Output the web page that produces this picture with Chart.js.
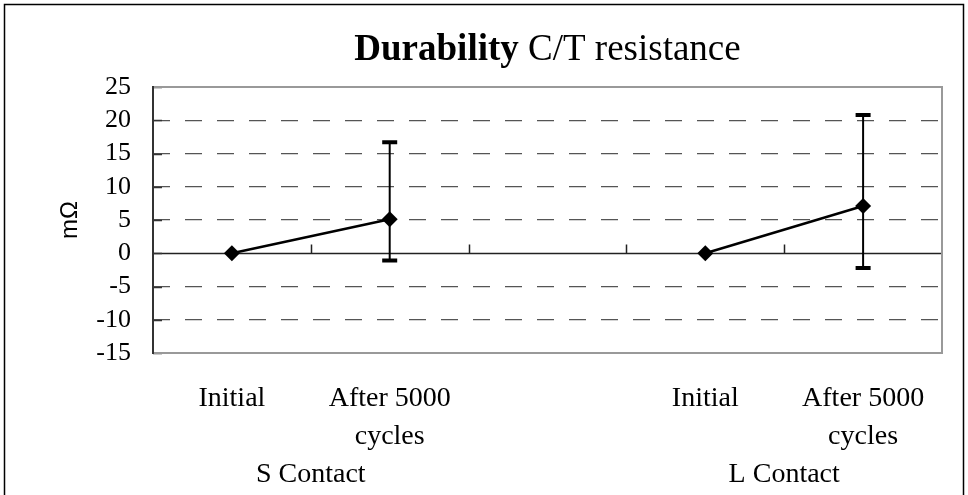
<!DOCTYPE html>
<html>
<head>
<meta charset="utf-8">
<script src="https://cdn.jsdelivr.net/npm/chart.js@4"></script>
<style>
  html, body { margin: 0; padding: 0; background: #fff; }
  #wrap { width: 968px; height: 495px; position: relative; }
</style>
</head>
<body>
<div id="wrap"><canvas id="ctChart"></canvas></div>
<script>
// categorias (la del medio vacia, separa los dos grupos)
var labels = ['Initial', ['After 5000', 'cycles'], '', 'Initial', ['After 5000', 'cycles']];
var groups = ['S Contact', 'L Contact'];
var groupIdx = [[0, 1], [3, 4]];

// valores medios y extremos de las barras de error (mOhm)
var s_mean = [0, 5.1, null, null, null];
var s_hi   = [0, 16.7, null, null, null];
var s_lo   = [0, -1.1, null, null, null];
var l_mean = [null, null, null, 0, 7.1];
var l_hi   = [null, null, null, 0, 20.8];
var l_lo   = [null, null, null, 0, -2.2];

var yTicks = [-15, -10, -5, 0, 5, 10, 15, 20, 25];

const serif = "'Liberation Serif', 'Times New Roman', serif";

// titulo con parte en negrita, marco, linea del cero, ticks, barras de error
const decor = {
  id: 'decor',
  beforeDatasetsDraw(chart) {
    const ctx = chart.ctx, a = chart.chartArea;
    const x = chart.scales.x, y = chart.scales.y;
    ctx.save();
    // linea del cero
    const y0 = Math.round(y.getPixelForValue(0)) + 0.5;
    ctx.strokeStyle = '#222';
    ctx.lineWidth = 1.5;
    ctx.beginPath();
    ctx.moveTo(a.left, y0);
    ctx.lineTo(a.right, y0);
    // ticks de categoria hacia arriba
    for (let i = 1; i < labels.length; i++) {
      const bx = Math.round((x.getPixelForValue(i - 1) + x.getPixelForValue(i)) / 2) + 0.5;
      ctx.moveTo(bx, y0);
      ctx.lineTo(bx, y0 - 9);
    }
    ctx.stroke();
    // ticks del eje y hacia adentro
    ctx.strokeStyle = '#333';
    ctx.lineWidth = 1.5;
    ctx.beginPath();
    yTicks.forEach(function(v) {
      const ty = Math.round(y.getPixelForValue(v)) + 0.5;
      ctx.moveTo(a.left, ty);
      ctx.lineTo(a.left + 9, ty);
    });
    ctx.stroke();
    ctx.restore();
  },
  afterDatasetsDraw(chart) {
    const ctx = chart.ctx;
    const x = chart.scales.x, y = chart.scales.y;
    ctx.save();
    ctx.strokeStyle = '#000';
    [[s_hi, s_lo], [l_hi, l_lo]].forEach(function(pair) {
      const hi = pair[0], lo = pair[1];
      for (let i = 0; i < hi.length; i++) {
        if (hi[i] === null || hi[i] === lo[i]) continue;
        const px = x.getPixelForValue(i);
        const yh = y.getPixelForValue(hi[i]);
        const yl = y.getPixelForValue(lo[i]);
        ctx.lineWidth = 2;
        ctx.beginPath();
        ctx.moveTo(px, yh);
        ctx.lineTo(px, yl);
        ctx.stroke();
        ctx.lineWidth = 4;
        ctx.beginPath();
        ctx.moveTo(px - 7.5, yh);
        ctx.lineTo(px + 7.5, yh);
        ctx.moveTo(px - 7.5, yl);
        ctx.lineTo(px + 7.5, yl);
        ctx.stroke();
      }
    });
    ctx.restore();
  },
  afterDraw(chart) {
    const ctx = chart.ctx, a = chart.chartArea;
    const x = chart.scales.x;
    ctx.save();
    // borde del area de trazado
    ctx.strokeStyle = '#999';
    ctx.lineWidth = 2;
    ctx.strokeRect(a.left, a.top, a.right - a.left, a.bottom - a.top);
    ctx.strokeStyle = '#333';
    ctx.beginPath();
    ctx.moveTo(a.left, a.top - 1);
    ctx.lineTo(a.left, a.bottom + 1);
    ctx.stroke();
    // marco exterior
    ctx.strokeStyle = '#000';
    ctx.lineWidth = 1.5;
    ctx.strokeRect(4.5, 4.5, chart.width - 9, chart.height + 10);
    // titulo
    const bold = 'bold 37px ' + serif, norm = '37px ' + serif;
    ctx.font = bold;
    const w1 = ctx.measureText('Durability ').width;
    ctx.font = norm;
    const w2 = ctx.measureText('C/T resistance').width;
    const cx = (a.left + a.right) / 2;
    let tx = cx - (w1 + w2) / 2;
    ctx.fillStyle = '#000';
    ctx.textBaseline = 'alphabetic';
    ctx.textAlign = 'left';
    ctx.font = bold;
    ctx.fillText('Durability ', tx, 60);
    ctx.font = norm;
    ctx.fillText('C/T resistance', tx + w1, 60);
    // etiquetas de grupo
    ctx.font = '28px ' + serif;
    ctx.textAlign = 'center';
    groups.forEach(function(g, k) {
      const gi = groupIdx[k];
      const gx = (x.getPixelForValue(gi[0]) + x.getPixelForValue(gi[1])) / 2;
      ctx.fillText(g, gx, 482);
    });
    ctx.restore();
  }
};

const config = {
  type: 'line',
  data: {
    labels: labels,
    datasets: [{
      label: 'S Contact',
      data: s_mean,
      borderColor: '#000',
      backgroundColor: '#000',
      borderWidth: 2.5,
      pointStyle: 'rectRot',
      pointRadius: 8,
      pointBackgroundColor: '#000',
      pointBorderWidth: 0,
      spanGaps: false
    }, {
      label: 'L Contact',
      data: l_mean,
      borderColor: '#000',
      backgroundColor: '#000',
      borderWidth: 2.5,
      pointStyle: 'rectRot',
      pointRadius: 8,
      pointBackgroundColor: '#000',
      pointBorderWidth: 0,
      spanGaps: false
    }]
  },
  options: {
    responsive: true,
    maintainAspectRatio: false,
    animation: false,
    layout: { padding: { top: 87, right: 26, left: 0, bottom: 0 } },
    plugins: {
      legend: { display: false },
      title: { display: false },
      tooltip: { enabled: false }
    },
    scales: {
      x: {
        offset: true,
        grid: { display: false, drawTicks: false },
        border: { display: false },
        ticks: {
          color: '#000',
          padding: 27,
          maxRotation: 0,
          autoSkip: false,
          font: { family: serif, size: 28, lineHeight: 1.35 }
        },
        afterFit: function(s) { s.height = 142; }
      },
      y: {
        min: -15,
        max: 25,
        afterBuildTicks: function(s) { s.ticks = yTicks.map(function(v) { return { value: v }; }); },
        grid: {
          drawTicks: false,
          color: function(c) {
            const v = c.tick ? c.tick.value : null;
            return (v === 0 || v === -15 || v === 25) ? 'rgba(0,0,0,0)' : '#555';
          },
          lineWidth: 1.2
        },
        border: { display: false, dash: [17, 15] },
        ticks: {
          color: '#000',
          padding: 22,
          autoSkip: false,
          font: { family: serif, size: 26 }
        },
        title: {
          display: true,
          text: 'mΩ',
          color: '#000',
          font: { family: "'Liberation Sans', Arial, sans-serif", size: 24 },
          padding: { top: 56, bottom: 0 }
        },
        afterFit: function(s) { s.width = 153; }
      }
    }
  },
  plugins: [decor]
};

var ctChart = new Chart(document.getElementById('ctChart'), config);
</script>
</body>
</html>
